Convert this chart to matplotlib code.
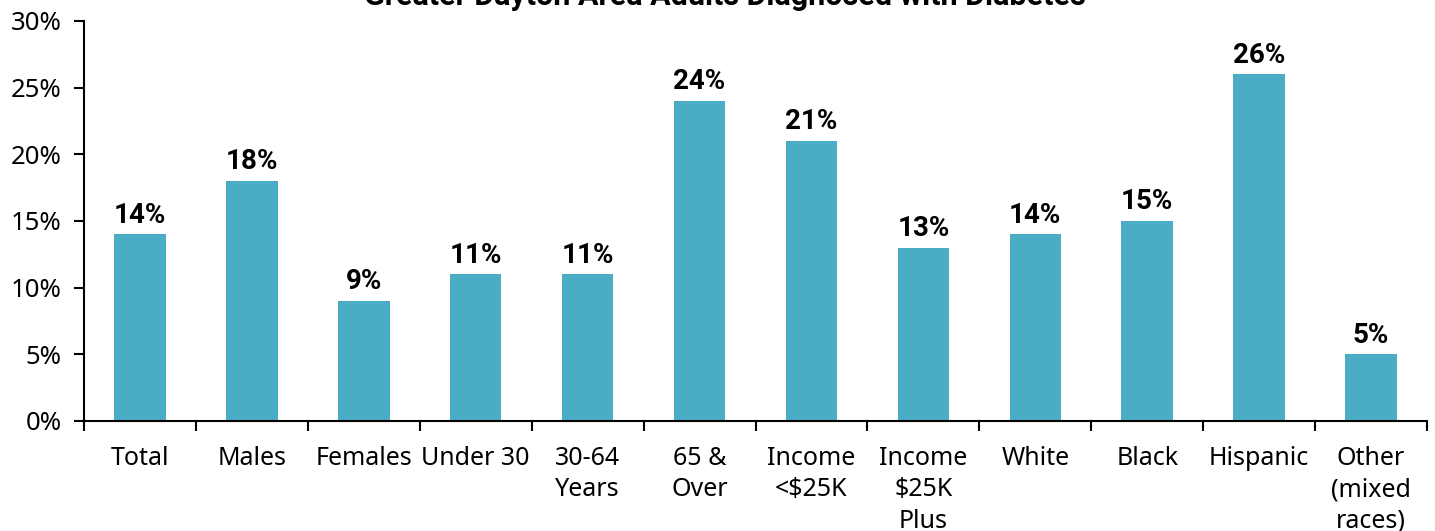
import matplotlib
matplotlib.use("Agg")
import matplotlib.pyplot as plt
from matplotlib.ticker import PercentFormatter

categories = ["Total", "Males", "Females", "Under 30", "30-64\nYears", "65 &\nOver",
              "Income\n<$25K", "Income\n$25K\nPlus", "White", "Black", "Hispanic",
              "Other\n(mixed\nraces)"]
values = [14, 18, 9, 11, 11, 24, 21, 13, 14, 15, 26, 5]
title = "Greater Dayton Area Adults Diagnosed with Diabetes"

plt.rcParams['font.family'] = ['Noto Sans', 'DejaVu Sans']
bold_family = ['Roboto', 'DejaVu Sans']

fig = plt.figure(figsize=(14.35, 5.31), dpi=100)
ax = fig.add_axes([84/1435, 110/531, (1427-84)/1435, (421-21)/531])

x = range(len(categories))
ax.bar(x, values, width=0.46, color="#4BACC6")
for xi, v in zip(x, values):
    ax.annotate(f"{v}%", (xi, v), xytext=(0, 4), textcoords="offset points",
                ha="center", va="bottom", fontsize=20, fontweight="bold",
                family=bold_family, color="black")

ax.set_xlim(-0.5, len(categories) - 0.5)
ax.set_ylim(0, 30)
ax.set_yticks(range(0, 31, 5))
ax.yaxis.set_major_formatter(PercentFormatter(decimals=0))
ax.set_xticks([i + 0.5 for i in range(-1, len(categories))])
ax.set_xticklabels([])
ax.set_xticks(list(x), minor=True)
ax.set_xticklabels(categories, minor=True, fontsize=18, linespacing=1.33, va="top")
ax.tick_params(axis="x", which="minor", length=0, pad=18)
ax.tick_params(axis="x", which="major", length=7, width=1.5, direction="out")
ax.tick_params(axis="y", length=7, width=1.5, direction="out", labelsize=18.5, pad=9)

for s in ["top", "right"]:
    ax.spines[s].set_visible(False)
for s in ["left", "bottom"]:
    ax.spines[s].set_linewidth(1.5)

fig.text(725/1435, 1 - 5/531, title, ha="center", va="baseline",
         fontsize=22, fontweight="bold", family=bold_family)

fig.savefig("out.png", dpi=100)
